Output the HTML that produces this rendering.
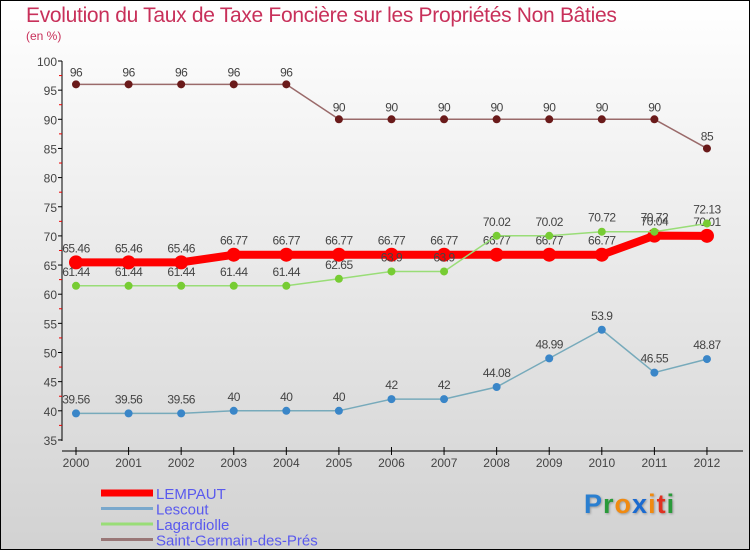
<!DOCTYPE html>
<html><head><meta charset="utf-8"><style>
body{margin:0}
#wrap{position:relative;width:748px;height:548px;border:1px solid #000;background:linear-gradient(#fff,#d2d2d2);font-family:"Liberation Sans",sans-serif;overflow:hidden}
.t{position:absolute;left:25px;top:3px;font-size:21px;color:#c8305a;letter-spacing:-0.3px}
.s{position:absolute;left:25px;top:28px;font-size:12px;color:#c8305a}
</style></head><body>
<div id="wrap">
<div class="t">Evolution du Taux de Taxe Foncière sur les Propriétés Non Bâties</div>
<div class="s">(en %)</div>
<svg id="c" width="748" height="548" style="position:absolute;left:0;top:0"></svg>
<div style="position:absolute;left:583px;top:488px;font-size:27px;font-weight:bold;letter-spacing:1px;text-shadow:1px 1px 2px #999"><span style="color:#2a7fd0">P</span><span style="color:#2a9a3a">r</span><span style="color:#f08a10">o</span><span style="color:#1a6ad0">x</span><span style="color:#f08a10">i</span><span style="color:#e03020">t</span><span style="color:#2a9a3a">i</span></div>
</div>
<script>
const years=[2000,2001,2002,2003,2004,2005,2006,2007,2008,2009,2010,2011,2012];
const yTicks=[35,40,45,50,55,60,65,70,75,80,85,90,95,100];
const lempaut=[65.46,65.46,65.46,66.77,66.77,66.77,66.77,66.77,66.77,66.77,66.77,70.04,70.01];
const lescout=[39.56,39.56,39.56,40,40,40,42,42,44.08,48.99,53.9,46.55,48.87];
const lagardiolle=[61.44,61.44,61.44,61.44,61.44,62.65,63.9,63.9,70.02,70.02,70.72,70.72,72.13];
const stgermain=[96,96,96,96,96,90,90,90,90,90,90,90,85];
const names=["LEMPAUT","Lescout","Lagardiolle","Saint-Germain-des-Prés"];
const svg=document.getElementById('c');const NS='http://www.w3.org/2000/svg';
const x=i=>75+i*52.58; const y=v=>60+(100-v)*5.83;
function el(t,a,p){const e=document.createElementNS(NS,t);for(const k in a)e.setAttribute(k,a[k]);(p||svg).appendChild(e);return e;}
let ax=el('line',{x1:61,y1:60,x2:61,y2:440,stroke:'#000'});


yTicks.forEach(v=>{el('line',{x1:57,x2:61,y1:y(v),y2:y(v),stroke:'#000'});
 if(v<100)el('line',{x1:58,x2:61,y1:y(v+2.5),y2:y(v+2.5),stroke:'#e00'});
 const t=el('text',{x:56,y:y(v)+5,'text-anchor':'end','font-size':12,fill:'#444'});t.textContent=v;
 
 });
let xa=el('line',{x1:61,y1:450,x2:742,y2:450,stroke:'#000'});


years.forEach((yr,i)=>{el('line',{x1:x(i),x2:x(i),y1:446,y2:454,stroke:'#000'});
 const t=el('text',{x:x(i),y:466,'text-anchor':'middle','font-size':12,fill:'#444'});t.textContent=yr;
 
 });
function series(d,col,lc,w,r,name,dy){
 const g=el('g',{});
 
 
 el('polyline',{points:d.map((v,i)=>x(i)+','+y(v)).join(' '),fill:'none',stroke:lc,'stroke-width':w},g);
 d.forEach((v,i)=>{el('circle',{cx:x(i),cy:y(v),r:r,fill:col},g);
  const t=el('text',{x:x(i),y:y(v)+dy,'text-anchor':'middle','font-size':12,fill:'#444','letter-spacing':'-0.5'},g);t.textContent=v;});
}
series(stgermain,'#6a1a1a','#9a6a6a',1.5,4,'series-saint-germain',-8);
series(lempaut,'#f00','#f00',8,7,'series-lempaut',-10);
series(lagardiolle,'#7c3','#9d7',1.5,4,'series-lagardiolle',-10);
series(lescout,'#3a86c8','#7ab',1.5,4,'series-lescout',-10);
const lc=['#f00','#7aa8cc','#9d7','#977'],lw=[7,3,3,3];
names.forEach((n,i)=>{const yy=492+i*15.5;
 el('line',{x1:100,x2:152,y1:yy,y2:yy,stroke:lc[i],'stroke-width':lw[i]});
 const t=el('text',{x:155,y:yy+6,'font-size':15,fill:'#5a5aee'});t.textContent=n;
 
 });
</script>
</body></html>
